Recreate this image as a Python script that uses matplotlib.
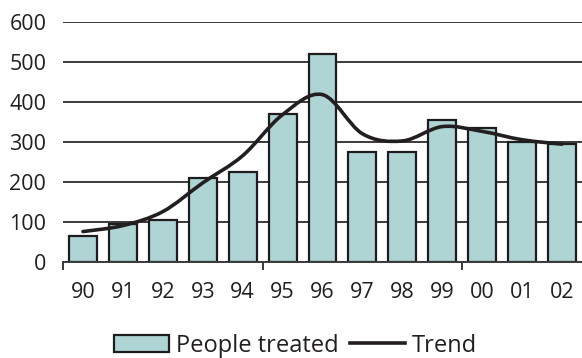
import matplotlib
matplotlib.use("Agg")
import matplotlib.pyplot as plt
import numpy as np
from matplotlib.path import Path
from matplotlib.patches import PathPatch
from matplotlib.lines import Line2D
from matplotlib.patches import Patch

years = ["90", "91", "92", "93", "94", "95", "96", "97", "98", "99", "00", "01", "02"]
people_treated = [65, 95, 105, 210, 225, 370, 520, 275, 275, 355, 335, 300, 295]
trend = [75, 90, 125, 197, 265, 368, 418, 320, 302, 338, 326, 305, 294]

plt.rcParams['font.family'] = ['Open Sans', 'DejaVu Sans']

fig = plt.figure(figsize=(5.82, 3.58), dpi=100)
ax = fig.add_axes([63/582, 1-261.5/358, 1-63/582, (261.5-22)/358])

x = np.arange(len(years))
ax.bar(x, people_treated, width=0.7, color='#aed4d4', edgecolor='#1e1c1c',
       linewidth=1.6, zorder=3)

# smooth trend line (Catmull-Rom drawn as cubic Bezier)
pts = np.column_stack([x, trend]).astype(float)
verts = [tuple(pts[0])]
codes = [Path.MOVETO]
for i in range(len(pts) - 1):
    p0 = pts[i-1] if i > 0 else pts[i]
    p1 = pts[i]
    p2 = pts[i+1]
    p3 = pts[i+2] if i + 2 < len(pts) else pts[i+1]
    c1 = p1 + (p2 - p0) / 6
    c2 = p2 - (p3 - p1) / 6
    verts += [tuple(c1), tuple(c2), tuple(p2)]
    codes += [Path.CURVE4, Path.CURVE4, Path.CURVE4]
ax.add_patch(PathPatch(Path(verts, codes), facecolor='none', edgecolor='#231f20',
                       linewidth=2.6, zorder=4, capstyle='round'))

ax.set_xlim(-0.5, 12.5)
ax.set_ylim(0, 600)
ax.set_yticks([0, 100, 200, 300, 400, 500, 600])
ax.yaxis.grid(True, color='#3a3a3a', linewidth=1.4)
ax.set_axisbelow(True)
for s in ['left', 'right', 'top']:
    ax.spines[s].set_visible(False)
ax.spines['bottom'].set_color('#3a3a3a')
ax.spines['bottom'].set_linewidth(1.4)
ax.spines['bottom'].set_zorder(5)
ax.tick_params(axis='y', length=0, pad=12, labelsize=15.5, labelcolor='#231f20')

ax.set_xticks(x)
ax.set_xticklabels(years)
ax.tick_params(axis='x', which='major', length=0, pad=15, labelsize=15.5, labelcolor='#231f20')
ax.set_xticks([-0.5, 4.5, 9.5], minor=True)
ax.tick_params(axis='x', which='minor', length=6, width=1.4, color='#3a3a3a')

handles = [Patch(facecolor='#aed4d4', edgecolor='#1e1c1c', linewidth=1.6),
           Line2D([0], [0], color='#231f20', linewidth=2.6)]
fig.legend(handles, ['People treated', 'Trend'], loc='center', ncol=2,
           bbox_to_anchor=(0.508, 0.034), frameon=False, fontsize=17,
           handlelength=2.3, handleheight=0.75, handletextpad=0.3,
           columnspacing=0.5, labelcolor='#231f20', borderpad=0.1)

fig.savefig('out.png', dpi=100)
